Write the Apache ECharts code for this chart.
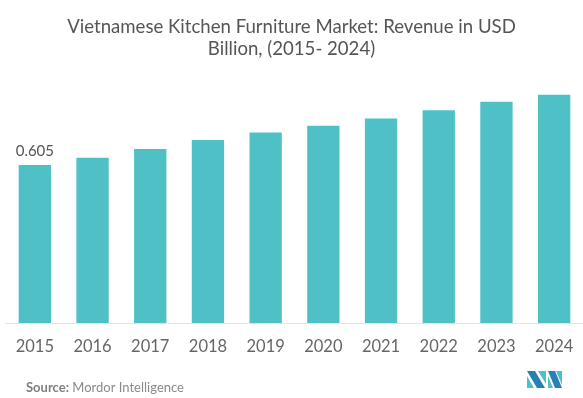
<!DOCTYPE html>
<html>
<head>
<meta charset="utf-8">
<script src="https://cdn.jsdelivr.net/npm/echarts@6/dist/echarts.min.js"></script>
<style>
  html, body { margin: 0; padding: 0; background: #fff; }
  #chart { width: 583px; height: 398px; }
</style>
</head>
<body>
<div id="chart"></div>
<script>
// data
var years = ['2015', '2016', '2017', '2018', '2019', '2020', '2021', '2022', '2023', '2024'];
var revenue = [0.605, 0.633, 0.667, 0.701, 0.730, 0.756, 0.784, 0.815, 0.848, 0.875];
var labelled = ['2015']; // only first bar carries a value label

var myChart = echarts.init(document.getElementById('chart'));

var barData = revenue.map(function (v, i) {
  var item = { value: v };
  if (labelled.indexOf(years[i]) > -1) {
    item.label = { show: true };
  }
  return item;
});

var option = {
  animation: false,
  title: {
    text: 'Vietnamese Kitchen Furniture Market: Revenue in USD\nBillion, (2015- 2024)',
    left: 'center',
    top: 11,
    textStyle: {
      fontFamily: 'Lato',
      fontWeight: 'normal',
      fontSize: 18.6,
      lineHeight: 22,
      color: '#555'
    }
  },
  grid: { left: 6, right: 0, top: 62, bottom: 75 },
  xAxis: {
    type: 'category',
    data: years,
    axisLine: { lineStyle: { color: '#e3e3e3', width: 1 } },
    axisTick: { show: false },
    axisLabel: {
      fontFamily: 'Lato',
      fontSize: 16.5,
      color: '#666',
      margin: 15
    }
  },
  yAxis: {
    type: 'value',
    min: 0,
    max: 1,
    show: false,
    splitLine: { show: false }
  },
  series: [{
    type: 'bar',
    data: barData,
    barWidth: '56%',
    itemStyle: { color: '#4fc1c6' },
    label: {
      show: false,
      position: 'top',
      distance: 6,
      fontFamily: 'Lato',
      fontSize: 15,
      color: '#555'
    }
  }],
  graphic: [
    {
      type: 'text',
      left: 26,
      top: 381,
      style: {
        rich: {
          b: { fontFamily: 'Lato', fontWeight: 'bold', fontSize: 13, fill: '#808080' },
          n: { fontFamily: 'Lato', fontSize: 13, fill: '#8a8a8a' }
        },
        text: '{b|Source:} {n|Mordor Intelligence}'
      }
    },
    // little logo bottom right
    { type: 'polygon', shape: { points: [[527, 371], [535, 371], [545, 388], [537, 388]] }, style: { fill: '#2a7fb5' } },
    { type: 'polygon', shape: { points: [[527, 376], [534, 388], [527, 388]] }, style: { fill: '#4fc1c6' } },
    { type: 'polygon', shape: { points: [[538, 371], [546, 371], [546, 384]] }, style: { fill: '#4fc1c6' } },
    { type: 'polygon', shape: { points: [[548, 371], [555, 371], [562, 388], [555, 388]] }, style: { fill: '#2a7fb5' } },
    { type: 'polygon', shape: { points: [[556, 371], [562, 371], [562, 385]] }, style: { fill: '#4fc1c6' } },
    { type: 'polygon', shape: { points: [[548, 376], [553, 388], [548, 388]] }, style: { fill: '#4fc1c6' } }
  ]
};

myChart.setOption(option);
</script>
</body>
</html>
